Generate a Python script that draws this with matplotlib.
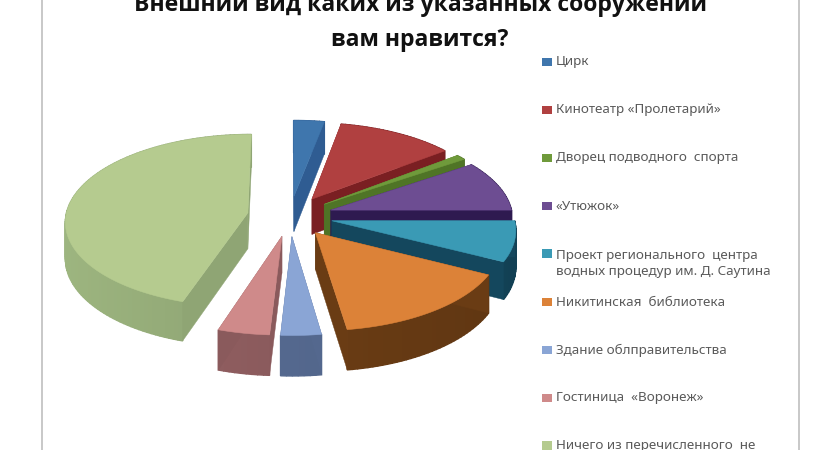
import numpy as np
import matplotlib
matplotlib.use("Agg")
import matplotlib.pyplot as plt
from matplotlib.patches import Polygon, Rectangle
from matplotlib.colors import to_rgb

title_lines = ["Внешний вид каких из указанных сооружений", "вам нравится?"]
labels = ["Цирк", "Кинотеатр «Пролетарий»", "Дворец подводного  спорта", "«Утюжок»",
          "Проект регионального  центра\nводных процедур им. Д. Саутина",
          "Никитинская  библиотека", "Здание облправительства", "Гостиница  «Воронеж»",
          "Ничего из перечисленного  не"]
values = [3.0, 11.5, 1.0, 9.5, 7.5, 15.2, 3.2, 4.1, 45.0]
top_colors = ["#3f76ad", "#b04040", "#6f9a3b", "#6d4d92", "#3a9ab5", "#dc8238", "#8aa5d5", "#cf8a8a", "#b5cb8f"]
side_colors = ["#2f5c92", "#7a1f22", "#4f7426", "#2e1a50", "#14475d", "#6a3c14", "#54688e", "#8a5a5c", "#8fa574"]

CX, CY, SX, SY, K, DEPTH, EXPLODE = 290, 216, 182, 86, 0.09, 36, 0.235

def project(x3, y3, z):
    s = 1 / (1 + K * y3)
    return CX + x3 * SX * s, CY - y3 * SY * s + z * s

fig = plt.figure(figsize=(8.4, 4.5), dpi=100, facecolor="white")
ax = fig.add_axes([0, 0, 1, 1])
ax.set_xlim(0, 840)
ax.set_ylim(450, 0)
ax.axis("off")

ax.add_patch(Rectangle((41, 0), 2.2, 450, fc="#c9c9c9", ec="none", zorder=0))
ax.add_patch(Rectangle((797.5, 0), 2.2, 450, fc="#c9c9c9", ec="none", zorder=0))

fractions = np.array(values) / sum(values)
edges = np.concatenate([[0], np.cumsum(fractions)]) * 2 * np.pi
slices = []
for i in range(len(values)):
    a0, a1 = edges[i], edges[i + 1]
    mid = (a0 + a1) / 2
    ox, oy = EXPLODE * np.sin(mid), EXPLODE * np.cos(mid)
    th = np.linspace(a0, a1, max(3, int((a1 - a0) * 40)))
    xs = np.concatenate([[ox], ox + np.sin(th)])
    ys = np.concatenate([[oy], oy + np.cos(th)])
    slices.append((i, mid, th, xs, ys))

def shade(col, f):
    return tuple(min(1, c * f) for c in to_rgb(col))

# painter's order: back slices first
order = sorted(slices, key=lambda t: -np.cos(t[1]))
z = 2
for i, mid, th, xs, ys in order:
    top = np.array([project(a, b, 0) for a, b in zip(xs, ys)])
    bot = np.array([project(a, b, DEPTH) for a, b in zip(xs, ys)])
    n = len(xs)
    # outer rim, in angular order so that overlaps stay smooth
    for j in range(1, n - 1):
        c = shade(side_colors[i], 1.0 - 0.10 * np.sin(th[j - 1]))
        ax.add_patch(Polygon([top[j], top[j + 1], bot[j + 1], bot[j]], closed=True,
                             fc=c, ec=c, lw=1.0, zorder=z))
    # the two radial faces, the rear one first
    rads = sorted([1, n - 1], key=lambda j: -ys[j])
    for j in rads:
        c = side_colors[i]
        ax.add_patch(Polygon([top[0], top[j], bot[j], bot[0]], closed=True,
                             fc=c, ec=c, lw=0.3, zorder=z + 0.2))
    ax.add_patch(Polygon(top, closed=True, fc=top_colors[i], ec=top_colors[i], lw=0.4, zorder=z + 0.5))
    z += 1

title_y = [5, 40]
for line, y in zip(title_lines, title_y):
    ax.text(420, y, line, ha="center", va="center", fontsize=16.6, fontweight="bold",
            family="Open Sans", color="#111111", zorder=20)

legend_y = [62, 110, 158, 206, 263.5, 302, 350, 398, 445.5]
for lab, col, y in zip(labels, top_colors, legend_y):
    box_y = y - 10 if "\n" in lab else y
    ax.add_patch(Rectangle((542, box_y - 4.5), 10, 8.5, fc=col, ec="none", zorder=20))
    ax.text(556, y, lab, ha="left", va="center", fontsize=9.7, family="Noto Sans",
            color="#5a5a5a", linespacing=1.3, zorder=20)

fig.savefig("out.png", dpi=100)
